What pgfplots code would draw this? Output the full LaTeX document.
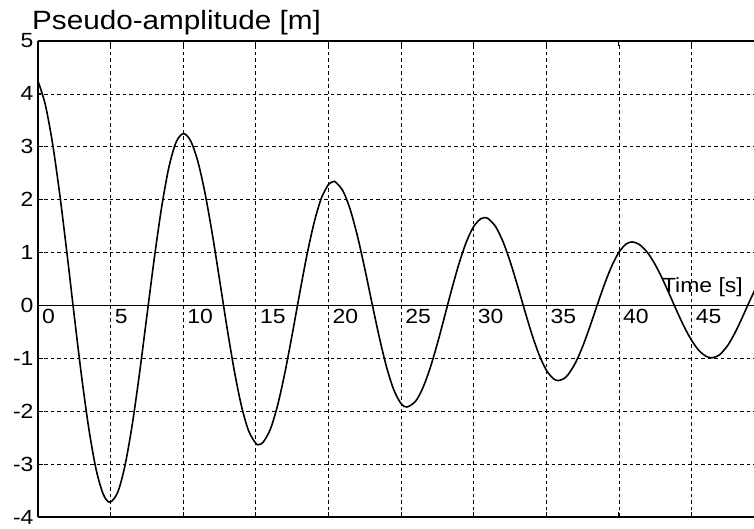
\documentclass[border=0pt]{standalone}
\usepackage{fontspec}
\setmainfont[FakeStretch=1.12]{Liberation Sans}
\usepackage{pgfplots}
\usepackage{pgfplotstable}
\pgfplotsset{compat=1.18}
\pgfplotstableread{
t v
0 4.240
0.5 3.801
1.0 3.066
1.5 2.095
2.0 0.974
2.5 -0.204
3.0 -1.338
3.5 -2.330
4.0 -3.100
4.5 -3.574
4.96 -3.720
5.5 -3.525
6.0 -3.013
6.5 -2.234
7.0 -1.262
7.5 -0.191
8.0 0.875
8.5 1.835
9.0 2.598
9.5 3.081
10.0 3.250
10.5 3.117
11.0 2.730
11.5 2.123
12.0 1.353
12.5 0.488
13.0 -0.394
13.5 -1.210
14.0 -1.891
14.5 -2.370
15.0 -2.609
15.2 -2.630
15.5 -2.588
16.0 -2.339
16.5 -1.886
17.0 -1.271
17.5 -0.553
18.0 0.203
18.5 0.929
19.0 1.553
19.5 2.021
20.0 2.286
20.34 2.340
20.5 2.330
21.0 2.164
21.5 1.811
22.0 1.306
22.5 0.695
23.0 0.038
23.5 -0.602
24.0 -1.165
24.5 -1.597
25.0 -1.856
25.4 -1.920
26.0 -1.810
26.5 -1.558
27.0 -1.184
27.5 -0.719
28.0 -0.204
28.5 0.318
29.0 0.801
29.5 1.204
30.0 1.493
30.5 1.642
30.74 1.660
31.0 1.640
31.5 1.494
32.0 1.217
32.5 0.837
33.0 0.389
33.5 -0.084
34.0 -0.539
34.5 -0.930
35.0 -1.223
35.5 -1.388
35.83 -1.420
36.2 -1.385
36.5 -1.308
37.0 -1.089
37.5 -0.777
38.0 -0.400
38.5 0.004
39.0 0.397
39.5 0.742
40.0 1.006
40.5 1.163
40.89 1.200
41.2 1.180
41.5 1.134
42.0 0.988
42.5 0.770
43.0 0.499
43.5 0.196
44.0 -0.115
44.5 -0.408
45.0 -0.659
45.5 -0.849
46.0 -0.962
46.4 -0.990
46.8 -0.955
47.0 -0.917
47.5 -0.752
48.0 -0.512
48.5 -0.223
49.0 0.083
49.5 0.372
}\curvedata
\newcommand{\lab}{\fontsize{20.5}{24}\selectfont}
\begin{document}
\begin{tikzpicture}
\begin{axis}[
  width=716pt, height=476pt, scale only axis,
  xmin=0, xmax=49.3, ymin=-4, ymax=5,
  axis x line=box, axis y line=left,
  axis line style={line width=1.3pt, -},
  xtick={0,5,10,15,20,25,30,35,40,45},
  ytick={-4,-3,-2,-1,0,1,2,3,4,5},
  xticklabels={},
  yticklabels={-4,-3,-2,-1,0,1,2,3,4,5},
  grid=major,
  major grid style={black, line width=0.75pt, dash pattern=on 3.5pt off 3pt},
  tick align=inside, major tick length=5pt,
  tick style={black, line width=1pt},
  yticklabel style={font=\lab, xshift=-1pt},
]
\addplot[black, line width=1.6pt, smooth] table[x=t,y=v]{\curvedata};
\draw[black, line width=1.1pt] (axis cs:0,0) -- (axis cs:49.3,0);
\node[anchor=north west, inner sep=0pt, font=\lab] at ([xshift=4pt,yshift=-4pt]axis cs:0,0) {0};
\node[anchor=north west, inner sep=0pt, font=\lab] at ([xshift=4pt,yshift=-4pt]axis cs:5,0) {5};
\node[anchor=north west, inner sep=0pt, font=\lab] at ([xshift=4pt,yshift=-4pt]axis cs:10,0) {10};
\node[anchor=north west, inner sep=0pt, font=\lab] at ([xshift=4pt,yshift=-4pt]axis cs:15,0) {15};
\node[anchor=north west, inner sep=0pt, font=\lab] at ([xshift=4pt,yshift=-4pt]axis cs:20,0) {20};
\node[anchor=north west, inner sep=0pt, font=\lab] at ([xshift=4pt,yshift=-4pt]axis cs:25,0) {25};
\node[anchor=north west, inner sep=0pt, font=\lab] at ([xshift=4pt,yshift=-4pt]axis cs:30,0) {30};
\node[anchor=north west, inner sep=0pt, font=\lab] at ([xshift=4pt,yshift=-4pt]axis cs:35,0) {35};
\node[anchor=north west, inner sep=0pt, font=\lab] at ([xshift=4pt,yshift=-4pt]axis cs:40,0) {40};
\node[anchor=north west, inner sep=0pt, font=\lab] at ([xshift=4pt,yshift=-4pt]axis cs:45,0) {45};
\node[anchor=south east, inner sep=0pt, font=\lab] at ([xshift=-11pt,yshift=8pt]axis cs:49.3,0) {Time [s]};
\coordinate (bl) at (rel axis cs:0,0);
\coordinate (tl) at (rel axis cs:0,1);
\coordinate (tr) at (rel axis cs:1,1);
\end{axis}
\node[anchor=base west, inner sep=0pt, font=\fontsize{26.5}{30}\selectfont] at ([xshift=-6pt,yshift=11pt]tl) {Pseudo-amplitude [m]};
\pgfresetboundingbox
\path ([shift={(-38pt,-12pt)}]bl) rectangle ([shift={(0pt,41pt)}]tr);
\end{tikzpicture}
\end{document}
